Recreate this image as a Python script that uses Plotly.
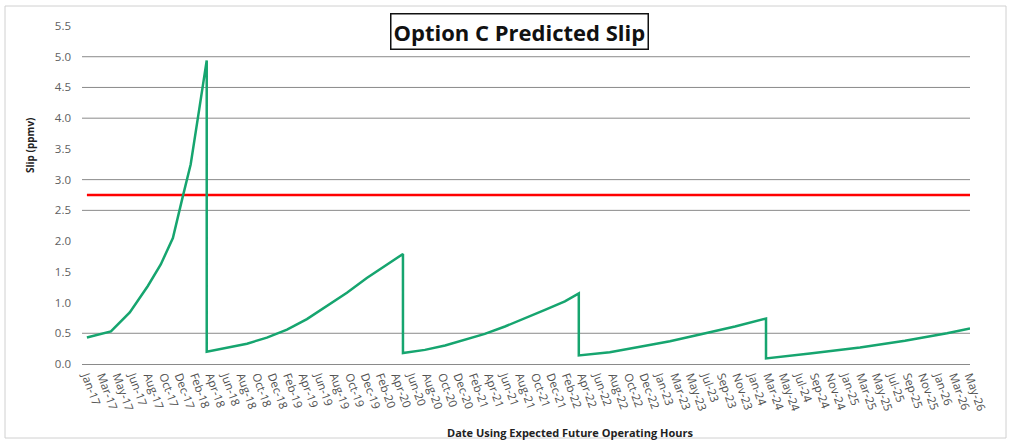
import plotly.graph_objects as go

# ---------------- data ----------------
slip_dates = [
    # run 1
    "2017-01-01", "2017-04-04", "2017-06-16", "2017-08-25", "2017-10-14",
    "2017-11-30", "2018-01-07", "2018-02-07", "2018-03-14", "2018-04-10",
    # run 2
    "2018-04-10", "2018-06-27", "2018-09-13", "2018-11-29", "2019-02-15",
    "2019-05-03", "2019-07-20", "2019-10-05", "2019-12-21", "2020-02-29",
    "2020-05-09",
    # run 3
    "2020-05-09", "2020-08-02", "2020-10-19", "2021-01-04", "2021-03-22",
    "2021-06-08", "2021-08-24", "2021-11-10", "2022-01-26", "2022-03-21",
    # run 4
    "2022-03-21", "2022-07-19", "2022-11-13", "2023-03-09", "2023-07-03",
    "2023-11-16", "2024-03-15",
    # run 5
    "2024-03-15", "2024-09-01", "2025-03-14", "2025-09-04", "2026-02-14",
    "2026-05-14",
]
slip_values = [
    0.43, 0.53, 0.84, 1.27, 1.62, 2.05, 2.72, 3.25, 4.20, 4.94,
    0.20, 0.26, 0.33, 0.43, 0.56, 0.73, 0.94, 1.16, 1.40, 1.60, 1.79,
    0.18, 0.23, 0.30, 0.39, 0.49, 0.61, 0.74, 0.88, 1.02, 1.15,
    0.14, 0.19, 0.28, 0.37, 0.48, 0.61, 0.74,
    0.09, 0.17, 0.27, 0.38, 0.50, 0.58,
]
limit_dates = ["2017-01-01", "2026-05-14"]
limit_values = [2.75, 2.75]
grid_values = [0.5, 2.5, 3.0, 4.0, 4.5, 5.0]
y_ticks = [0.0, 0.5, 1.0, 1.5, 2.0, 2.5, 3.0, 3.5, 4.0, 4.5, 5.0, 5.5]

TITLE = "Option C Predicted Slip"
X_TITLE = "Date Using Expected Future Operating Hours"
Y_TITLE = "Slip (ppmv)"

# ---------------- layout helpers ----------------
W, H = 1017, 443
ML, MR, MT, MB = 82, 47, 26, 79
PW, PH = W - ML - MR, H - MT - MB


def px_x(p):
    return (p - ML) / PW


def px_y(p):
    return (H - MB - p) / PH


fig = go.Figure()

fig.add_trace(go.Scatter(
    x=limit_dates, y=limit_values, mode="lines",
    line=dict(color="#ff0000", width=2.5), showlegend=False,
))
fig.add_trace(go.Scatter(
    x=slip_dates, y=slip_values, mode="lines",
    line=dict(color="#16a56f", width=2.5), showlegend=False,
))

shapes = []
for g in grid_values:
    shapes.append(dict(type="line", xref="paper", yref="y", x0=0, x1=1,
                       y0=g, y1=g, line=dict(color="#8a8a8a", width=1),
                       layer="below"))
# outer chart border
shapes.append(dict(type="rect", xref="paper", yref="paper",
                   x0=px_x(5), x1=px_x(1006), y0=px_y(438), y1=px_y(6),
                   line=dict(color="#d0d0d0", width=1), layer="below"))

fig.update_layout(
    width=W, height=H,
    margin=dict(l=ML, r=MR, t=MT, b=MB),
    paper_bgcolor="white", plot_bgcolor="white",
    font=dict(family="Open Sans, Liberation Sans, sans-serif", color="#595959"),
    shapes=shapes,
    xaxis=dict(
        type="date",
        range=["2016-12-13", "2026-05-14"],
        tick0="2017-01-01", dtick=60 * 86400000,
        tickformat="%b-%y", tickangle=70,
        tickfont=dict(size=11.5, color="#505050"),
        showgrid=False, zeroline=False,
        showline=True, linecolor="#8a8a8a", linewidth=1,
        ticks="",
    ),
    yaxis=dict(
        range=[0, 5.5], tickvals=y_ticks, tickformat=".1f",
        tickfont=dict(size=11.5, color="#606060"),
        showgrid=False, zeroline=False, showline=False,
        ticklabelstandoff=10,
    ),
    annotations=[
        dict(text="<b>" + TITLE + "</b>", xref="paper", yref="paper",
             x=px_x(519), y=px_y(31.5), xanchor="center", yanchor="middle",
             showarrow=False, font=dict(size=22, color="#111111"),
             bordercolor="#111111", borderwidth=1.5, borderpad=2,
             bgcolor="white"),
        dict(text="<b>" + X_TITLE + "</b>", xref="paper", yref="paper",
             x=px_x(570), y=px_y(432), xanchor="center", yanchor="middle",
             showarrow=False, font=dict(size=11, color="#222222")),
        dict(text="<b>" + Y_TITLE + "</b>", xref="paper", yref="paper",
             x=px_x(30), y=px_y(146), xanchor="center", yanchor="middle",
             textangle=-90, showarrow=False,
             font=dict(size=10, color="#222222")),
    ],
)

fig.write_html("out.html",
               config={"displayModeBar": False},
               post_script="document.body.style.margin='0px';"
                           "document.body.style.overflow='hidden';")
